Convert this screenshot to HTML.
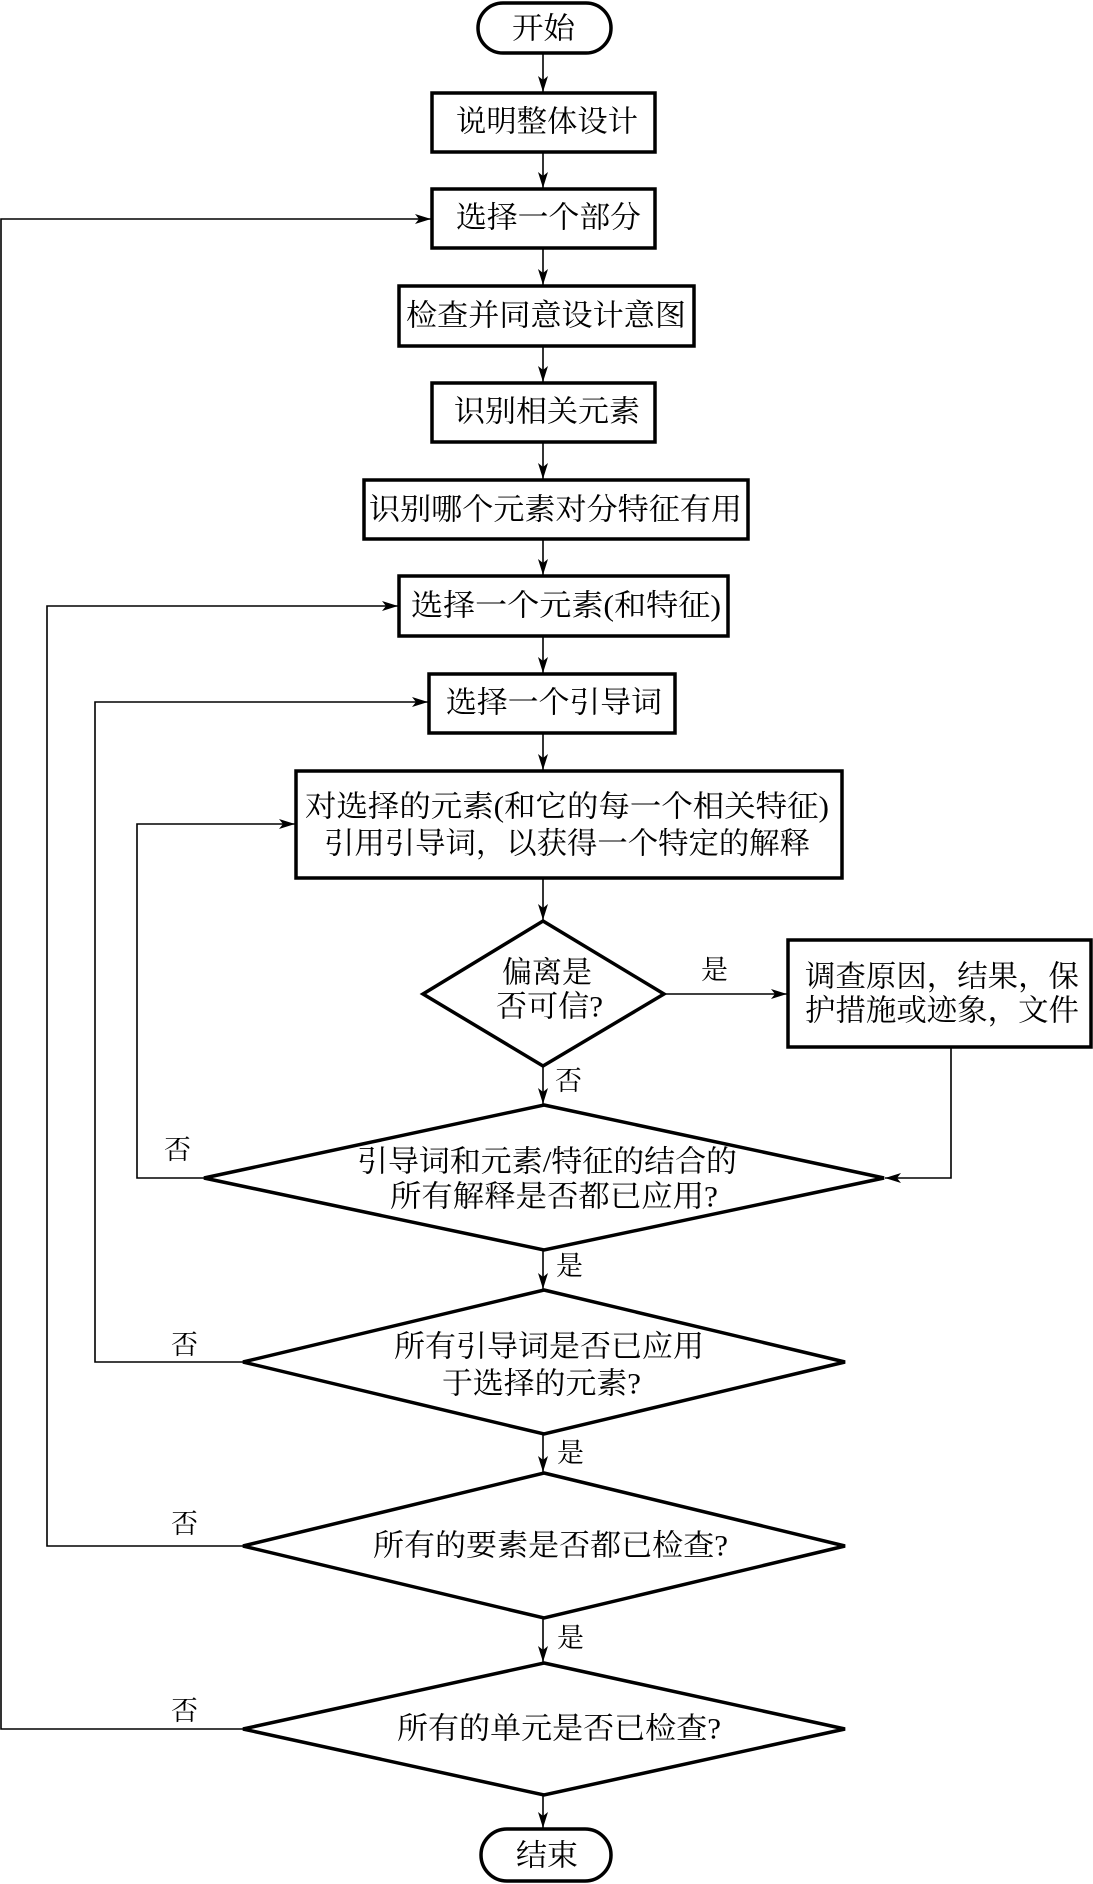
<!DOCTYPE html>
<html><head><meta charset="utf-8"><style>
html,body{margin:0;padding:0;background:#fff;}
svg{display:block;}
text{font-family:"Liberation Serif","Noto Serif CJK SC","Noto Sans CJK SC",serif;fill:#000;dominant-baseline:central;}
</style></head><body>
<svg width="1093" height="1884" viewBox="0 0 1093 1884" xmlns="http://www.w3.org/2000/svg">
<defs>
<marker id="a" markerWidth="16" markerHeight="10" refX="16" refY="5" orient="auto" markerUnits="userSpaceOnUse">
<path d="M0,0 L16,5 L0,10 L4,5 Z" fill="#000"/>
</marker>
</defs>
<g fill="none" stroke="#000" stroke-width="3.5">
<rect x="478" y="3" width="133" height="50" rx="25"/>
<rect x="432" y="93" width="223" height="59"/>
<rect x="432" y="189" width="223" height="59"/>
<rect x="399" y="286" width="295" height="60"/>
<rect x="432" y="383" width="223" height="59"/>
<rect x="364" y="480" width="384" height="59"/>
<rect x="399" y="576" width="329" height="60"/>
<rect x="429" y="674" width="246" height="59"/>
<rect x="296" y="771" width="546" height="107"/>
<polygon points="543,921 664,994 543,1066 423,994"/>
<rect x="788" y="940" width="303" height="107"/>
<polygon points="544,1105 884,1178 544,1250 204,1178"/>
<polygon points="544,1290 845,1362 544,1434 243,1362"/>
<polygon points="544,1473 845,1546 544,1618 243,1546"/>
<polygon points="544,1663 845,1729 544,1795 243,1729"/>
<rect x="481" y="1829" width="130" height="52" rx="26"/>
</g>
<g fill="none" stroke="#000" stroke-width="1.6">
<line x1="543" y1="54" x2="543" y2="92" marker-end="url(#a)"/>
<line x1="543" y1="152" x2="543" y2="188" marker-end="url(#a)"/>
<line x1="543" y1="248" x2="543" y2="285" marker-end="url(#a)"/>
<line x1="543" y1="346" x2="543" y2="382" marker-end="url(#a)"/>
<line x1="543" y1="442" x2="543" y2="479" marker-end="url(#a)"/>
<line x1="543" y1="539" x2="543" y2="575" marker-end="url(#a)"/>
<line x1="543" y1="636" x2="543" y2="673" marker-end="url(#a)"/>
<line x1="543" y1="733" x2="543" y2="770" marker-end="url(#a)"/>
<line x1="543" y1="878" x2="543" y2="920" marker-end="url(#a)"/>
<line x1="543" y1="1066" x2="543" y2="1104" marker-end="url(#a)"/>
<line x1="543" y1="1250" x2="543" y2="1289" marker-end="url(#a)"/>
<line x1="543" y1="1434" x2="543" y2="1472" marker-end="url(#a)"/>
<line x1="543" y1="1618" x2="543" y2="1662" marker-end="url(#a)"/>
<line x1="543" y1="1795" x2="543" y2="1828" marker-end="url(#a)"/>
<line x1="664" y1="994" x2="787" y2="994" marker-end="url(#a)"/>
<polyline points="951,1047 951,1178 885,1178" marker-end="url(#a)"/>
<polyline points="204,1178 137,1178 137,824 295,824" marker-end="url(#a)"/>
<polyline points="243,1362 95,1362 95,702 428,702" marker-end="url(#a)"/>
<polyline points="243,1546 47,1546 47,606 398,606" marker-end="url(#a)"/>
<polyline points="243,1729 1,1729 1,219 431,219" marker-end="url(#a)"/>
</g>
<g font-size="30" lengthAdjust="spacingAndGlyphs">
<text x="512" y="29" textLength="63" lengthAdjust="spacingAndGlyphs">开始</text>
<text x="456" y="122" textLength="182" lengthAdjust="spacingAndGlyphs">说明整体设计</text>
<text x="456" y="218" textLength="185" lengthAdjust="spacingAndGlyphs">选择一个部分</text>
<text x="406" y="316" textLength="280" lengthAdjust="spacingAndGlyphs">检查并同意设计意图</text>
<text x="454" y="412" textLength="186" lengthAdjust="spacingAndGlyphs">识别相关元素</text>
<text x="369" y="510" textLength="373" lengthAdjust="spacingAndGlyphs">识别哪个元素对分特征有用</text>
<text x="411" y="606" textLength="310" lengthAdjust="spacingAndGlyphs">选择一个元素(和特征)</text>
<text x="446" y="703" textLength="216" lengthAdjust="spacingAndGlyphs">选择一个引导词</text>
<text x="305" y="807" textLength="524" lengthAdjust="spacingAndGlyphs">对选择的元素(和它的每一个相关特征)</text>
<text x="324" y="844" textLength="486" lengthAdjust="spacingAndGlyphs">引用引导词，以获得一个特定的解释</text>
<text x="502" y="973" textLength="90" lengthAdjust="spacingAndGlyphs">偏离是</text>
<text x="496" y="1007" textLength="107" lengthAdjust="spacingAndGlyphs">否可信?</text>
<text x="805" y="977" textLength="274" lengthAdjust="spacingAndGlyphs">调查原因，结果，保</text>
<text x="805" y="1011" textLength="274" lengthAdjust="spacingAndGlyphs">护措施或迹象，文件</text>
<text x="357" y="1162" textLength="380" lengthAdjust="spacingAndGlyphs">引导词和元素/特征的结合的</text>
<text x="390" y="1197" textLength="328" lengthAdjust="spacingAndGlyphs">所有解释是否都已应用?</text>
<text x="394" y="1347" textLength="310" lengthAdjust="spacingAndGlyphs">所有引导词是否已应用</text>
<text x="442" y="1384" textLength="199" lengthAdjust="spacingAndGlyphs">于选择的元素?</text>
<text x="373" y="1546" textLength="355" lengthAdjust="spacingAndGlyphs">所有的要素是否都已检查?</text>
<text x="397" y="1729" textLength="324" lengthAdjust="spacingAndGlyphs">所有的单元是否已检查?</text>
<text x="516" y="1856" textLength="62" lengthAdjust="spacingAndGlyphs">结束</text>
</g>
<g font-size="27">
<text x="701" y="970">是</text>
<text x="555" y="1081">否</text>
<text x="164" y="1150">否</text>
<text x="556" y="1266">是</text>
<text x="171" y="1345">否</text>
<text x="557" y="1453">是</text>
<text x="171" y="1524">否</text>
<text x="557" y="1638">是</text>
<text x="171" y="1711">否</text>
</g>
</svg>
</body></html>
